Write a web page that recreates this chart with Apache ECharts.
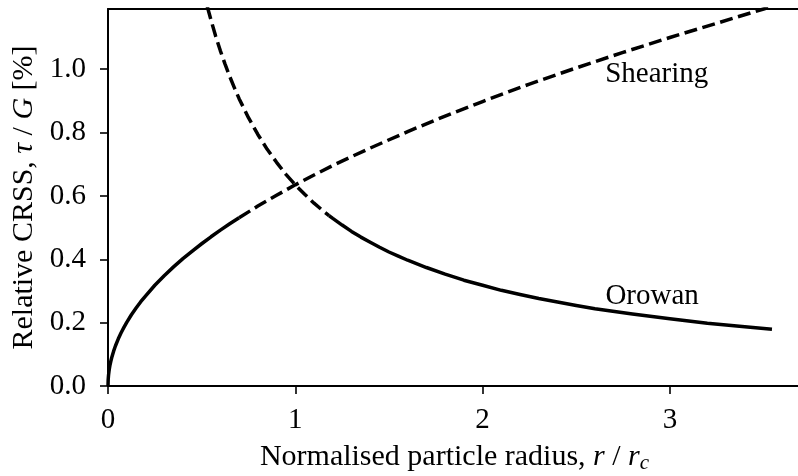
<!DOCTYPE html>
<html>
<head>
<meta charset="utf-8">
<script src="https://cdn.jsdelivr.net/npm/echarts@6/dist/echarts.min.js"></script>
<style>
  html, body { margin: 0; padding: 0; background: #fff; }
  #chart { width: 798px; height: 476px; }
</style>
</head>
<body>
<div id="chart"></div>
<script>
// Shearing strength (rises with radius): solid for small particles, dashed beyond
const shearSolidR   = [0, 0.001, 0.002, 0.003, 0.005, 0.0075, 0.01, 0.015, 0.02, 0.03, 0.04, 0.055, 0.07, 0.085, 0.1, 0.125, 0.15, 0.175, 0.2, 0.25, 0.3, 0.35, 0.4, 0.45, 0.5, 0.55, 0.6, 0.65, 0.7];
const shearSolidTau = [0, 0.020, 0.028, 0.035, 0.045, 0.055, 0.064, 0.078, 0.090, 0.110, 0.127, 0.149, 0.168, 0.185, 0.201, 0.225, 0.246, 0.266, 0.284, 0.318, 0.348, 0.376, 0.402, 0.426, 0.449, 0.471, 0.492, 0.512, 0.531];
const shearDashR    = [0.7, 0.8, 0.9, 1.0, 1.1, 1.2, 1.3, 1.4, 1.6, 1.8, 2.0, 2.25, 2.5, 2.75, 3.0, 3.25, 3.5, 3.545];
const shearDashTau  = [0.531, 0.568, 0.602, 0.635, 0.666, 0.696, 0.724, 0.751, 0.803, 0.852, 0.898, 0.953, 1.004, 1.053, 1.100, 1.145, 1.190, 1.198];

// Orowan bypass stress (falls with radius): dashed for small particles, solid beyond
const orowanDashR    = [0.53, 0.55, 0.575, 0.6, 0.625, 0.65, 0.675, 0.7, 0.75, 0.8, 0.85, 0.9, 0.95, 1.0, 1.05, 1.1, 1.15, 1.18];
const orowanDashTau  = [1.198, 1.155, 1.104, 1.058, 1.016, 0.977, 0.941, 0.907, 0.847, 0.794, 0.747, 0.706, 0.668, 0.635, 0.605, 0.577, 0.552, 0.538];
const orowanSolidR   = [1.18, 1.2, 1.25, 1.3, 1.35, 1.4, 1.45, 1.5, 1.55, 1.6, 1.7, 1.8, 1.9, 2.0, 2.1, 2.2, 2.3, 2.4, 2.5, 2.6, 2.8, 3.0, 3.2, 3.4, 3.545];
const orowanSolidTau = [0.538, 0.529, 0.508, 0.488, 0.470, 0.454, 0.438, 0.423, 0.410, 0.397, 0.374, 0.353, 0.334, 0.318, 0.302, 0.289, 0.276, 0.265, 0.254, 0.244, 0.227, 0.212, 0.198, 0.187, 0.179];

// Curve labels, placed in data units
const labelNames = ['Shearing', 'Orowan'];
const labelR     = [2.93, 2.905];
const labelTau   = [0.985, 0.283];

const xTicks = [0, 1, 2, 3];
const yTicks = [0.0, 0.2, 0.4, 0.6, 0.8, 1.0];

const FONT = '"Liberation Serif", "Times New Roman", serif';
const TICK_SIZE = 29;
const TITLE_SIZE = 30;
const zip = (a, b) => a.map((v, i) => [v, b[i]]);

const solid  = { color: '#000', width: 3.5, type: 'solid', cap: 'butt', join: 'round' };
const dashed = { color: '#000', width: 3.5, type: [13, 5.6], cap: 'butt', join: 'round' };

const lineSeries = (data, style) => ({
  type: 'line', data, showSymbol: false, symbol: 'none',
  lineStyle: style, clip: true, silent: true, animation: false, z: 3
});

const spine = { show: true, onZero: false, lineStyle: { color: '#000', width: 2 } };
const ticks = { show: true, inside: false, length: 8, lineStyle: { color: '#000', width: 1.6 } };

const chart = echarts.init(document.getElementById('chart'), null, { renderer: 'canvas' });
chart.setOption({
  backgroundColor: '#fff',
  animation: false,
  grid: { left: 108, top: 9, width: 693, height: 377, show: false, containLabel: false, outerBoundsMode: 'none' },
  xAxis: [{
    type: 'value', min: 0, max: 3.7, interval: 1,
    name: '{n|Normalised particle radius, }{i|r}{n| / }{i|r}{s|c}',
    nameLocation: 'middle', nameGap: 55,
    nameTextStyle: {
      rich: {
        n: { fontFamily: FONT, fontSize: TITLE_SIZE, color: '#000' },
        i: { fontFamily: FONT, fontSize: TITLE_SIZE, fontStyle: 'italic', color: '#000' },
        s: { fontFamily: FONT, fontSize: 21, fontStyle: 'italic', color: '#000', padding: [12, 0, 0, 0] }
      }
    },
    axisLine: spine,
    axisTick: ticks,
    axisLabel: {
      show: true, margin: 20, color: '#000', fontFamily: FONT, fontSize: TICK_SIZE,
      showMaxLabel: false,
      formatter: v => (xTicks.includes(v) ? String(v) : '')
    },
    splitLine: { show: false }
  }, {
    // top frame line
    type: 'value', position: 'top', min: 0, max: 3.7,
    axisLine: spine, axisTick: { show: false }, axisLabel: { show: false }, splitLine: { show: false }
  }],
  yAxis: {
    type: 'value', min: 0, max: 1.19, interval: 0.2,
    name: '{n|Relative CRSS, }{i|τ}{n| / }{i|G}{n| [%]}',
    nameLocation: 'middle', nameGap: 61, nameRotate: 90,
    nameTextStyle: {
      rich: {
        n: { fontFamily: FONT, fontSize: TITLE_SIZE, color: '#000' },
        i: { fontFamily: FONT, fontSize: TITLE_SIZE, fontStyle: 'italic', color: '#000' }
      }
    },
    axisLine: spine,
    axisTick: ticks,
    axisLabel: {
      show: true, margin: 22, color: '#000', fontFamily: FONT, fontSize: TICK_SIZE,
      showMaxLabel: false,
      formatter: v => {
        const t = yTicks.find(y => Math.abs(y - v) < 1e-6);
        return t === undefined ? '' : t.toFixed(1);
      }
    },
    splitLine: { show: false }
  },
  series: [
    lineSeries(zip(shearSolidR, shearSolidTau), solid),
    lineSeries(zip(shearDashR, shearDashTau), dashed),
    lineSeries(zip(orowanDashR, orowanDashTau), dashed),
    lineSeries(zip(orowanSolidR, orowanSolidTau), solid),
    {
      type: 'scatter', symbolSize: 0, silent: true, z: 5,
      itemStyle: { color: '#000' },
      data: labelNames.map((n, i) => ({ value: [labelR[i], labelTau[i]], name: n })),
      label: {
        show: true, position: 'inside', formatter: p => p.name,
        fontFamily: FONT, fontSize: TICK_SIZE, color: '#000',
        textBorderWidth: 0, opacity: 1
      }
    }
  ]
});
</script>
</body>
</html>
